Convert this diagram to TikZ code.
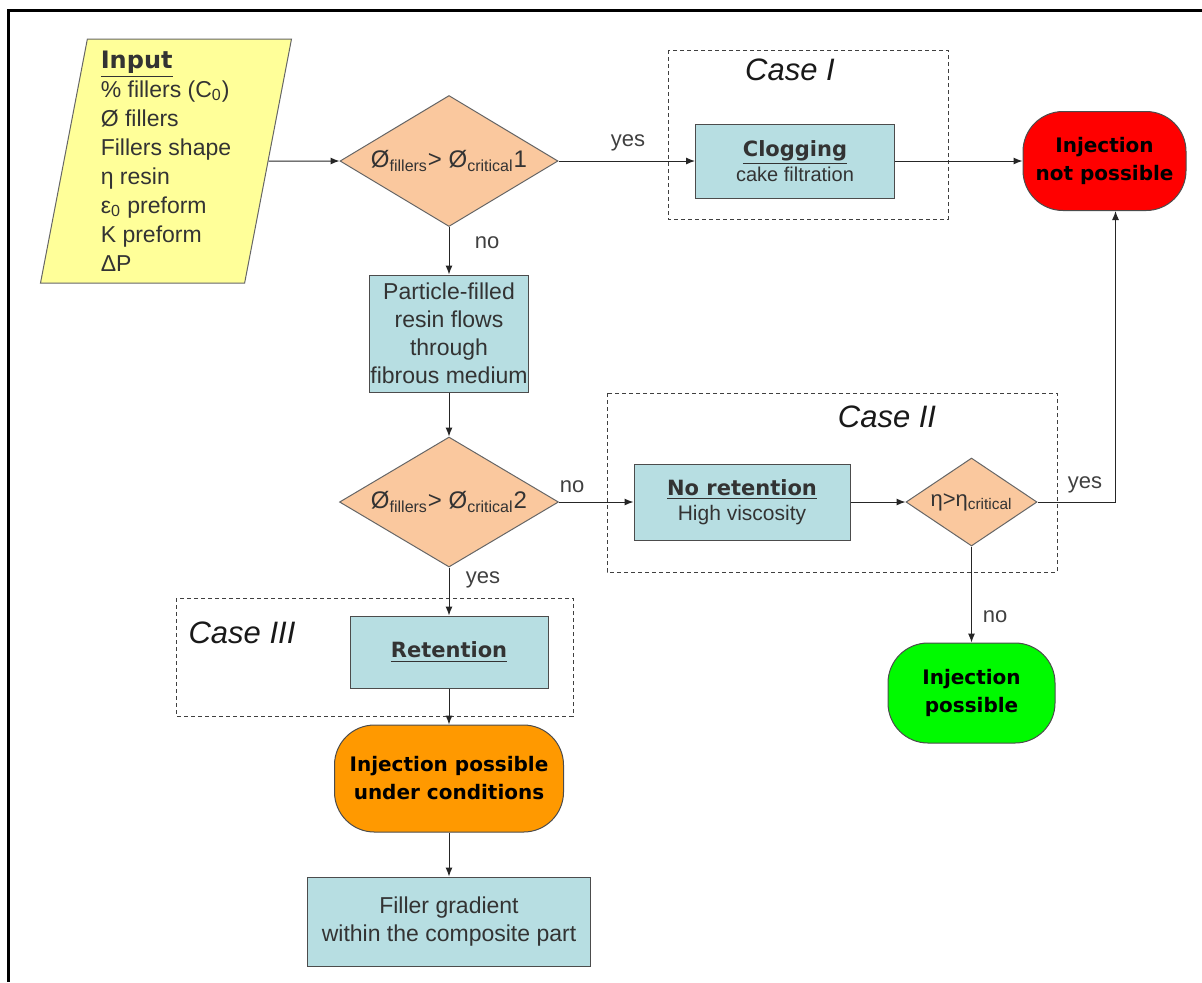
\documentclass[tikz,border=0pt]{standalone}
\usepackage{fontspec}
\setmainfont{Liberation Sans}
\newfontfamily\verdfont{DejaVu Sans}
\usepackage{tikz}
\usetikzlibrary{shapes.geometric, arrows.meta, positioning}
\tikzstyle{arrow} = [line width=0.5pt, draw=black!85, -{Latex[length=4.5pt,width=3.5pt]}]
\tikzstyle{procbox} = [rectangle, draw=black!70, line width=0.5pt, fill=boxcolor, text=black!80, align=center, inner sep=0pt, font=\fontsize{11.5}{14}\selectfont]
\tikzstyle{decision} = [diamond, draw=black!60, line width=0.5pt, fill=diacolor, inner sep=0pt, text=black!80]
\tikzstyle{terminal} = [rectangle, rounded corners=20pt, draw=black!70, line width=0.5pt, align=center, inner sep=0pt, font=\verdfont\bfseries\fontsize{10}{14}\selectfont]
\tikzstyle{casebox} = [draw=black!75, line width=0.5pt, dash pattern=on 2pt off 1.5pt]
\tikzstyle{caselab} = [font=\itshape\fontsize{15.5}{17}\selectfont, text=black!90]
\tikzstyle{lab} = [font=\fontsize{11}{13}\selectfont, text=black!75]

\begin{document}
\begin{tikzpicture}[x=0.5pt, y=-0.5pt]
\definecolor{inputcolor}{RGB}{255,255,153}
\definecolor{boxcolor}{RGB}{183,222,226}
\definecolor{diacolor}{RGB}{250,200,158}
\definecolor{redcolor}{RGB}{255,0,0}
\definecolor{greencolor}{RGB}{0,250,0}
\definecolor{orangecolor}{RGB}{255,153,0}

\useasboundingbox (0,0) rectangle (1202,982);

% Frame
\draw[line width=1.5pt, line join=miter] (1202,10.5) -- (8.3,10.5) -- (8.3,982);

% Case boxes
\draw[casebox] (668,50) rectangle (948,219);
\draw[casebox] (607,393) rectangle (1057,572);
\draw[casebox] (176,598) rectangle (573,716);
\node[caselab] (caseone) at (790,70) {Case I};
\node[caselab] (casetwo) at (887,417) {Case II};
\node[caselab] (casethree) at (242,633) {Case III};

% Input
\node[trapezium, trapezium left angle=78, trapezium right angle=102, trapezium stretches body,
  draw=black!60, line width=0.5pt, fill=inputcolor, minimum width=125.5pt, minimum height=122pt,
  inner sep=0pt, align=left, text=black!80, font=\fontsize{11.5}{14.5}\selectfont] (input) at (166,161)
  {{\verdfont\bfseries\fontsize{12}{14.5}\selectfont\underline{Input}}\\
   \% fillers (C\textsubscript{0})\\
   Ø fillers\\
   Fillers shape\\
   η resin\\
   ε\textsubscript{0} preform\\
   K preform\\
   ΔP};

% Decisions
\node[decision, minimum width=109pt, minimum height=65.5pt, aspect=1.66, font=\fontsize{12}{14}\selectfont] (critone) at (449,161)
  {Ø\textsubscript{fillers}> Ø\textsubscript{critical}1};
\node[decision, minimum width=109.5pt, minimum height=65pt, aspect=1.68, font=\fontsize{12}{14}\selectfont] (crittwo) at (449,502)
  {Ø\textsubscript{fillers}> Ø\textsubscript{critical}2};
\node[decision, minimum width=65.5pt, minimum height=44pt, aspect=1.49, font=\fontsize{11}{13}\selectfont] (critvisc) at (971.5,502)
  {η>η\textsubscript{critical}};

% Process boxes
\node[procbox, minimum width=99.5pt, minimum height=37pt, font=\fontsize{10.5}{12.5}\selectfont] (clog) at (795,161)
  {{\verdfont\bfseries\underline{Clogging}}\\{\fontsize{10}{12}\selectfont cake filtration}};
\node[procbox, minimum width=79.5pt, minimum height=58.5pt] (flow) at (449,333.5)
  {Particle-filled\\resin flows\\through\\fibrous medium};
\node[procbox, minimum width=108pt, minimum height=38pt, font=\fontsize{10.5}{12.5}\selectfont] (noret) at (742,502)
  {{\verdfont\bfseries\underline{No retention}}\\{\fontsize{10.5}{12}\selectfont High viscosity}};
\node[procbox, minimum width=99pt, minimum height=36pt] (ret) at (449,652)
  {{\verdfont\bfseries\fontsize{10.5}{12.5}\selectfont\underline{Retention}}};
\node[procbox, minimum width=141.5pt, minimum height=44.5pt] (gradient) at (449,921.5)
  {Filler gradient\\within the composite part};

% Terminals
\node[terminal, fill=redcolor, minimum width=81.5pt, minimum height=49.5pt] (notposs) at (1104.5,161)
  {Injection\\not possible};
\node[terminal, fill=greencolor, minimum width=83.5pt, minimum height=50pt] (poss) at (971.5,693)
  {Injection\\possible};
\node[terminal, fill=orangecolor, minimum width=114.5pt, minimum height=53.5pt] (condposs) at (449,778.5)
  {Injection possible\\under conditions};

% Connectors
\draw[arrow] (input.east) -- (critone.west);
\draw[arrow] (critone.east) -- (clog.west);
\draw[arrow] (clog.east) -- (notposs.west);
\draw[arrow] (critone.south) -- (flow.north);
\draw[arrow] (flow.south) -- (crittwo.north);
\draw[arrow] (crittwo.east) -- (noret.west);
\draw[arrow] (noret.east) -- (critvisc.west);
\draw[arrow] (critvisc.east) -| ([xshift=5.5pt]notposs.south);
\draw[arrow] (critvisc.south) -- (poss.north);
\draw[arrow] (crittwo.south) -- (ret.north);
\draw[arrow] (ret.south) -- (condposs.north);
\draw[arrow] (condposs.south) -- (gradient.north);

% Labels
\node[lab] (yesone) at (628,143) {yes};
\node[lab] (noone) at (487,243) {no};
\node[lab] (notwo) at (572,487) {no};
\node[lab] (yestwo) at (1085,485) {yes};
\node[lab] (nothree) at (995,617) {no};
\node[lab] (yesthree) at (483,580) {yes};

\end{tikzpicture}
\end{document}
